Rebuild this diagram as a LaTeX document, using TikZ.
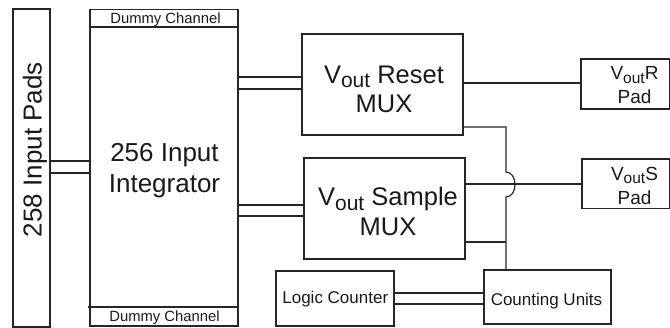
\documentclass[tikz,border=0pt]{standalone}
\usepackage{fontspec}
\setmainfont{Liberation Sans}
\newcommand\vout[2]{V\raisebox{-#2pt}{\fontsize{#1}{#1}\selectfont out}}
\begin{document}
\begin{tikzpicture}[x=1pt,y=-1pt,
  box/.style={draw=black!85, line width=1.2pt, inner sep=0pt, outer sep=0pt, anchor=north west},
  lbl/.style={text=black!90, inner sep=0pt, align=center},
  wire/.style={draw=black!85, line width=1.2pt}]
\useasboundingbox (0,0) rectangle (670,328);
% boxes
\node[box, minimum width=37pt, minimum height=318pt] (pads) at (13,9) {};
\node[box, minimum width=148pt, minimum height=316.5pt] (integ) at (90,9.5) {};
\node[box, minimum width=161pt, minimum height=101pt] (reset) at (302,34) {};
\node[box, minimum width=161pt, minimum height=101pt] (sample) at (304,158) {};
\node[box, minimum width=88.5pt, minimum height=50pt] (vr) at (581,59) {};
\node[box, minimum width=87.5pt, minimum height=49.5pt] (vs) at (582,159) {};
\node[box, minimum width=118pt, minimum height=55pt] (logic) at (276,271) {};
\node[box, minimum width=127pt, minimum height=54pt] (count) at (484,270) {};
% dummy channel dividers
\draw[wire] (integ.west |- 0,27) -- (integ.east |- 0,27);
\draw[wire] ([xshift=-2pt]integ.west |- 0,307) -- (integ.east |- 0,307);
% texts
\node[lbl, rotate=90, font=\fontsize{26}{31}\selectfont] (padtxt) at (35,149.7) {258 Input Pads};
\node[lbl, font=\fontsize{26}{31}\selectfont] (integtxt) at (164.5,171) {256 Input\\Integrator};
\node[lbl, font=\fontsize{14.8}{17}\selectfont] (dtop) at (165.5,19.7) {Dummy Channel};
\node[lbl, font=\fontsize{14.8}{17}\selectfont] (dbot) at (164.5,317.3) {Dummy Channel};
\node[lbl, font=\fontsize{25.5}{29.5}\selectfont] (resettxt) at (384,89.6) {\vout{21}{4.5} Reset\\MUX};
\node[lbl, font=\fontsize{25.5}{29.5}\selectfont] (sampletxt) at (388,211.3) {\vout{21}{4.5} Sample\\MUX};
\node[lbl, font=\fontsize{19}{24}\selectfont] (vrtxt) at (634.5,85.5) {\vout{15.5}{3.5}R\\Pad};
\node[lbl, font=\fontsize{19}{24}\selectfont] (vstxt) at (634.5,185.5) {\vout{15.5}{3.5}S\\Pad};
\node[lbl, font=\fontsize{17}{20}\selectfont] (logictxt) at (335.3,299.6) {Logic Counter};
\node[lbl, font=\fontsize{17}{20}\selectfont] (counttxt) at (546.5,301.3) {Counting Units};
% wires
\coordinate (bus) at (506,0);
\draw[wire] (pads.east |- 0,161) -- (integ.west |- 0,161);
\draw[wire] (pads.east |- 0,173) -- (integ.west |- 0,173);
\draw[wire] (integ.east |- 0,77) -- (reset.west |- 0,77);
\draw[wire] (integ.east |- 0,89) -- (reset.west |- 0,89);
\draw[wire] (integ.east |- 0,205) -- (sample.west |- 0,205);
\draw[wire] (integ.east |- 0,216) -- (sample.west |- 0,216);
\draw[wire] (reset.east |- 0,83) -- (vr.west |- 0,83);
\draw[wire] (sample.east |- 0,184) -- (vs.west |- 0,184);
\draw[wire] (logic.east |- 0,293) -- (count.west |- 0,293);
\draw[wire] (logic.east |- 0,304) -- (count.west |- 0,304);
\draw[wire] (reset.east |- 0,127) -- (bus |- 0,127) -- (bus |- 0,172)
  .. controls (518,172) and (518,197) .. (bus |- 0,197) -- (count.north -| bus);
\draw[wire] (sample.east |- 0,242) -- (bus |- 0,242);
\end{tikzpicture}
\end{document}
